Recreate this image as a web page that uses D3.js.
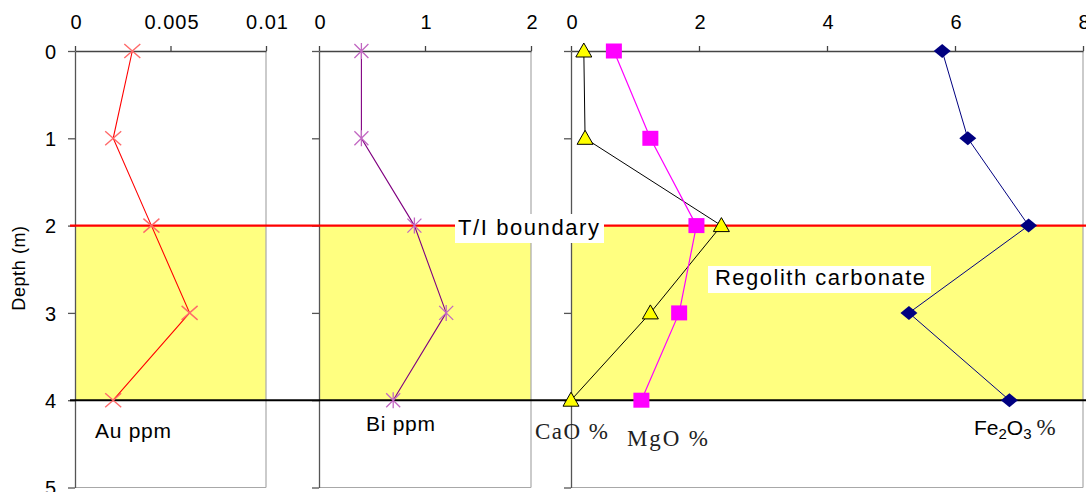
<!DOCTYPE html>
<html><head><meta charset="utf-8">
<script src="https://cdn.jsdelivr.net/npm/d3@7"></script>
<style>
body{margin:0;background:#fff;}
svg{display:block;}
text{font-family:Arial,"Liberation Sans",sans-serif;}
</style></head>
<body>
<svg id="c" width="1086" height="492"></svg>
<script>
const depths = [0, 1, 2, 3, 4];
const auPpm = [0.003, 0.002, 0.004, 0.006, 0.002];
const biPpm = [0.4, 0.4, 0.9, 1.2, 0.7];
const caoPct = [0.2, 0.22, 2.35, 1.24, 0.0];
const mgoPct = [0.67, 1.24, 1.96, 1.69, 1.1];
const fe2o3Pct = [5.8, 6.2, 7.15, 5.28, 6.85];
const depthTicks = [0, 1, 2, 3, 4, 5];
const auTicks = [0, 0.005, 0.01];
const biTicks = [0, 1, 2];
const oxideTicks = [0, 2, 4, 6, 8];
const boundaryDepth = 2;
const carbonateBase = 4;

const svg = d3.select("#c");
const y = d3.scaleLinear().domain([0, 5]).range([51, 487.5]);
const panels = [
  {x: d3.scaleLinear().domain([0, 0.01]).range([75, 266]), ticks: auTicks, fmt: d => d === 0 ? "0" : String(+d.toFixed(3)), labels: true},
  {x: d3.scaleLinear().domain([0, 2]).range([319, 531]), ticks: biTicks, fmt: d3.format("d"), labels: false},
  {x: d3.scaleLinear().domain([0, 8]).range([571, 1083]), ticks: oxideTicks, fmt: d3.format("d"), labels: false}
];

panels.forEach(p => {
  svg.append("rect").attr("x", p.x.range()[0]).attr("y", y(boundaryDepth))
    .attr("width", p.x.range()[1] - p.x.range()[0]).attr("height", y(carbonateBase) - y(boundaryDepth))
    .attr("fill", "#ffff80");
});

panels.forEach(p => {
  const [x0, x1] = p.x.range();
  svg.append("line").attr("x1", x1).attr("x2", x1).attr("y1", y(0)).attr("y2", y(5)).attr("stroke", "#a8a8a8").attr("stroke-width", 1.2);
  svg.append("line").attr("x1", x0).attr("x2", x1).attr("y1", y(5)).attr("y2", y(5)).attr("stroke", "#a8a8a8").attr("stroke-width", 1.2);
  const ya = d3.axisLeft(y).tickValues(depthTicks).tickSize(7).tickSizeOuter(0).tickPadding(12)
    .tickFormat(p.labels ? d3.format("d") : "");
  const gy = svg.append("g").attr("transform", `translate(${x0},0)`).call(ya);
  gy.attr("font-size", null).attr("font-family", null);
  gy.selectAll("path,line").attr("stroke", "#555").attr("stroke-width", 1.3);
  gy.selectAll("text").attr("fill", "#000").style("font-size", "20px").attr("dy", "0.36em");
  const xa = d3.axisTop(p.x).tickValues(p.ticks).tickSize(5).tickSizeOuter(0).tickPadding(17).tickFormat(p.fmt);
  const gx = svg.append("g").attr("transform", `translate(0,${y(0)})`).call(xa);
  gx.attr("font-size", null).attr("font-family", null);
  gx.selectAll("path,line").attr("stroke", "#444").attr("stroke-width", 1.3);
  gx.selectAll("text").attr("fill", "#000").style("font-size", "20px").style("letter-spacing", "1px").attr("dx", "1px");
});

svg.append("line").attr("x1", 70).attr("x2", 1086).attr("y1", y(boundaryDepth)).attr("y2", y(boundaryDepth))
  .attr("stroke", "#ff0000").attr("stroke-width", 2.2);
svg.append("line").attr("x1", 70).attr("x2", 1086).attr("y1", y(carbonateBase)).attr("y2", y(carbonateBase))
  .attr("stroke", "#000").attr("stroke-width", 2);

function series(xs, vals, color, width) {
  const pts = vals.map((v, i) => [xs(v), y(depths[i])]);
  svg.append("path").attr("d", d3.line()(pts)).attr("fill", "none")
    .attr("stroke", color).attr("stroke-width", width);
  return pts;
}

series(panels[0].x, auPpm, "#ff0000", 1.1).forEach(([px, py]) => {
  svg.append("path").attr("d", `M${px-8},${py-7}L${px+8},${py+7}M${px-8},${py+7}L${px+8},${py-7}`)
    .attr("stroke", "#ff6a6a").attr("stroke-width", 1.4).attr("fill", "none");
});
series(panels[1].x, biPpm, "#800080", 1.1).forEach(([px, py]) => {
  svg.append("path").attr("d", `M${px-7},${py-7}L${px+7},${py+7}M${px-7},${py+7}L${px+7},${py-7}M${px},${py-8}L${px},${py+8}`)
    .attr("stroke", "#c268c2").attr("stroke-width", 1.3).attr("fill", "none");
});
const caoPts = series(panels[2].x, caoPct, "#000", 1);
const mgoPts = series(panels[2].x, mgoPct, "#ff00ff", 1.2);
const fePts = series(panels[2].x, fe2o3Pct, "#000080", 1);

mgoPts.forEach(([px, py]) => {
  svg.append("rect").attr("x", px - 8).attr("y", py - 7.5).attr("width", 16).attr("height", 15).attr("fill", "#ff00ff");
});
caoPts.forEach(([px, py]) => {
  svg.append("path").attr("d", `M${px},${py-8}L${px+8},${py+6}L${px-8},${py+6}Z`)
    .attr("fill", "#ffff00").attr("stroke", "#000").attr("stroke-width", 1);
});
fePts.forEach(([px, py]) => {
  svg.append("path").attr("d", `M${px},${py-7}L${px+8.5},${py}L${px},${py+7}L${px-8.5},${py}Z`).attr("fill", "#000080");
});

svg.append("rect").attr("x", 455).attr("y", 214).attr("width", 149).attr("height", 29).attr("fill", "#fff");
svg.append("text").attr("x", 458).attr("y", 235).attr("textLength", 141).attr("lengthAdjust", "spacing")
  .style("font-size", "22px").text("T/I boundary");
svg.append("rect").attr("x", 708).attr("y", 266).attr("width", 223).attr("height", 27).attr("fill", "#fff");
svg.append("text").attr("x", 715).attr("y", 285).attr("textLength", 210).attr("lengthAdjust", "spacing")
  .style("font-size", "22px").text("Regolith carbonate");

svg.append("text").attr("transform", "translate(25,268) rotate(-90)").attr("text-anchor", "middle")
  .style("font-size", "18px").style("letter-spacing", "0.6px").text("Depth (m)");

svg.append("text").attr("x", 95).attr("y", 438).attr("textLength", 76).attr("lengthAdjust", "spacing")
  .style("font-size", "21px").text("Au ppm");
svg.append("text").attr("x", 366).attr("y", 431).attr("textLength", 69).attr("lengthAdjust", "spacing")
  .style("font-size", "21px").text("Bi ppm");
const serif = "'Liberation Serif','Times New Roman',serif";
svg.append("text").attr("x", 535).attr("y", 439).attr("textLength", 73).attr("lengthAdjust", "spacing")
  .style("font-size", "23px").style("font-family", serif).attr("fill", "#222").text("CaO %");
svg.append("text").attr("x", 627).attr("y", 446).attr("textLength", 81).attr("lengthAdjust", "spacing")
  .style("font-size", "23px").style("font-family", serif).attr("fill", "#222").text("MgO %");
const fe = svg.append("text").attr("x", 974).attr("y", 435).style("font-size", "21px");
fe.append("tspan").text("Fe");
fe.append("tspan").attr("dy", 4).style("font-size", "15px").text("2");
fe.append("tspan").attr("dy", -4).text("O");
fe.append("tspan").attr("dy", 4).style("font-size", "15px").text("3");
fe.append("tspan").attr("dy", -4).attr("dx", 5).style("font-family", serif).style("font-size", "23px").attr("fill", "#222").text("%");
</script>
</body></html>
